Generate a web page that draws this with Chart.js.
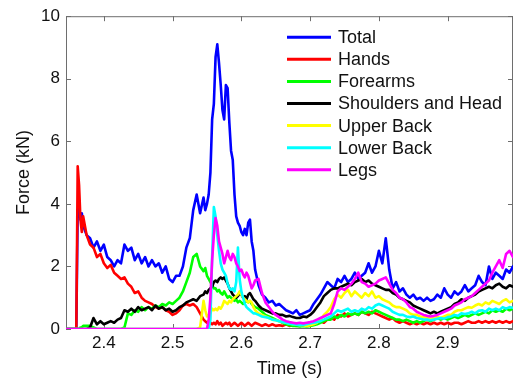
<!DOCTYPE html>
<html><head><meta charset="utf-8">
<script src="https://cdn.jsdelivr.net/npm/chart.js@4.4.1/dist/chart.umd.min.js"></script>
<style>html,body{margin:0;padding:0;background:#fff;}canvas{display:block}</style>
</head><body>
<canvas id="c" width="514" height="381"></canvas>
<script>
const seriesNames = ['Total','Hands','Forearms','Shoulders and Head','Upper Back','Lower Back','Legs'];
const seriesColors = ['#0000ff','#ff0000','#00ff00','#000000','#ffff00','#00ffff','#ff00ff'];

const times = [
2.345,2.350,2.355,2.360,
2.362,2.364,2.366,2.368,2.370,
2.375,2.380,2.385,2.390,2.395,
2.400,2.405,2.410,2.415,2.420,
2.425,2.430,2.435,2.440,2.445,
2.450,2.455,2.460,2.465,2.470,
2.475,2.480,2.485,2.490,2.495,
2.500,2.505,2.510,2.515,2.520,
2.525,2.530,2.535,2.540,2.545,
2.5475,2.5500,2.5525,2.5550,2.5575,
2.5600,2.5625,2.5650,2.5675,2.5700,
2.5725,2.5750,2.5775,2.5800,2.5825,
2.5850,2.5875,2.5900,2.5925,2.5950,
2.5975,2.6000,2.6025,2.6050,2.6075,
2.6100,2.6125,2.6150,2.6175,2.6200,
2.625,2.630,2.635,2.640,2.645,
2.650,2.655,2.660,2.665,2.670,
2.675,2.680,2.685,2.690,2.695,
2.700,2.705,2.710,2.715,2.720,
2.725,2.730,2.735,2.740,2.745,
2.750,2.755,2.760,2.765,2.770,
2.775,2.780,2.785,2.790,2.795,
2.800,2.805,2.810,2.815,2.820,
2.825,2.830,2.835,2.840,2.845,
2.850,2.855,2.860,2.865,2.870,
2.875,2.880,2.885,2.890,2.895,
2.900,2.905,2.910,2.915,2.920,
2.925,2.930,2.935,2.940,2.945,
2.950,2.955,2.960,2.965,2.970,
2.975,2.980,2.985,2.990,2.995
];

const total = [
0,0,0,0,
3.8,3.9,3.5,3.7,3.3,
3.0,2.9,2.6,2.8,2.5,
2.7,2.3,2.2,2.0,2.2,
2.1,2.7,2.5,2.6,2.2,
2.4,2.1,2.3,2.0,2.2,
2.0,2.1,1.8,2.0,1.6,
1.5,1.7,1.7,2.0,2.6,
2.9,3.8,4.3,3.7,4.2,
3.8,4.0,4.3,5.0,6.7,
7.2,8.7,9.1,8.5,7.8,
7.0,6.7,7.8,7.7,6.6,
5.7,5.4,4.3,3.6,3.4,
3.3,3.1,3.0,3.2,3.0,
3.4,3.5,2.8,2.5,1.9,
1.4,1.1,1.0,0.85,0.9,
0.75,0.8,0.7,0.6,0.55,
0.5,0.6,0.45,0.5,0.55,
0.6,0.8,0.95,1.1,1.3,
1.5,1.4,1.3,1.6,1.5,
1.7,1.5,1.6,1.8,1.6,
1.7,1.8,2.1,1.8,2.0,
2.5,2.1,2.9,1.9,1.3,
1.5,1.2,1.3,1.1,1.0,
1.1,0.95,1.0,0.9,1.0,
0.9,0.95,1.1,1.0,1.3,
1.1,1.0,1.2,1.1,1.2,
1.4,1.2,1.3,1.4,1.7,
1.5,1.4,2.0,1.6,1.8,
1.7,1.6,1.9,1.8,2.0
];

const hands = [
0,0,0,0,
5.2,4.6,3.5,3.1,3.6,
3.0,2.7,2.6,2.3,2.4,
2.1,1.95,2.05,1.8,1.7,
1.6,1.65,1.45,1.35,1.15,
1.2,1.0,0.9,0.85,0.8,
0.7,0.65,0.7,0.6,0.55,
0.45,0.5,0.6,0.75,0.8,
0.75,0.8,0.7,0.5,0.3,
0.25,0.2,0.25,0.2,0.15,
0.2,0.15,0.25,0.15,0.2,
0.1,0.15,0.2,0.15,0.2,
0.1,0.15,0.2,0.15,0.1,
0.15,0.2,0.15,0.1,0.15,
0.2,0.15,0.1,0.15,0.2,
0.15,0.1,0.15,0.1,0.15,
0.1,0.12,0.1,0.15,0.1,
0.12,0.1,0.15,0.12,0.15,
0.2,0.15,0.2,0.25,0.2,
0.3,0.35,0.3,0.45,0.4,
0.5,0.4,0.45,0.5,0.45,
0.55,0.5,0.45,0.55,0.5,
0.45,0.4,0.35,0.3,0.35,
0.25,0.2,0.25,0.2,0.15,
0.2,0.15,0.2,0.15,0.2,
0.15,0.2,0.15,0.2,0.15,
0.2,0.15,0.2,0.2,0.15,
0.2,0.25,0.2,0.2,0.25,
0.2,0.25,0.2,0.25,0.2,
0.25,0.2,0.25,0.2,0.25
];

const forearms = [
0,0,0,0,
0,0,0.05,0.05,0.1,
0.1,0.1,0.05,0,0,
0,0,0,0,0,
0,0.05,0.5,0.45,0.6,
0.55,0.7,0.6,0.7,0.65,
0.75,0.7,0.8,0.75,0.85,
0.8,0.9,1.0,1.2,1.5,
1.8,2.3,2.4,2.0,1.85,
1.95,1.7,1.6,1.5,1.4,
1.3,1.3,1.2,1.25,1.15,
1.1,1.2,1.1,1.0,1.05,
1.0,0.95,0.9,0.95,0.85,
0.9,0.85,0.8,0.85,0.9,
0.85,0.9,0.8,0.75,0.7,
0.65,0.55,0.45,0.4,0.35,
0.3,0.25,0.2,0.15,0.12,
0.1,0.1,0.08,0.1,0.08,
0.1,0.12,0.15,0.2,0.25,
0.3,0.3,0.4,0.35,0.45,
0.4,0.5,0.45,0.5,0.45,
0.55,0.5,0.55,0.5,0.6,
0.55,0.5,0.45,0.4,0.35,
0.3,0.3,0.25,0.3,0.25,
0.2,0.25,0.2,0.25,0.3,
0.25,0.3,0.35,0.3,0.35,
0.3,0.35,0.4,0.35,0.4,
0.45,0.4,0.45,0.5,0.45,
0.5,0.55,0.5,0.6,0.55,
0.6,0.55,0.65,0.6,0.65
];

const shoulders = [
0,0,0,0,
0,0,0,0,0,
0,0.05,0.35,0.15,0.25,
0.15,0.2,0.25,0.2,0.3,
0.35,0.6,0.55,0.65,0.55,
0.7,0.6,0.65,0.7,0.6,
0.75,0.65,0.7,0.6,0.65,
0.55,0.6,0.7,0.75,0.85,
0.9,0.95,0.9,1.05,1.1,
1.2,1.15,1.25,1.3,1.35,
1.5,1.55,1.5,1.6,1.65,
1.6,1.65,1.55,1.45,1.3,
1.2,1.1,1.05,1.0,1.05,
1.15,1.1,1.0,1.05,0.95,
1.1,1.15,1.05,0.95,0.9,
0.75,0.65,0.6,0.55,0.5,
0.5,0.45,0.45,0.4,0.42,
0.38,0.35,0.35,0.4,0.38,
0.45,0.55,0.7,0.85,1.05,
1.15,1.25,1.3,1.3,1.35,
1.4,1.45,1.4,1.5,1.55,
1.6,1.5,1.55,1.45,1.4,
1.35,1.3,1.25,1.25,1.15,
1.1,1.0,0.95,0.9,0.85,
0.75,0.7,0.65,0.6,0.55,
0.5,0.55,0.5,0.55,0.6,
0.65,0.7,0.8,0.85,0.95,
0.9,1.0,1.05,1.1,1.2,
1.25,1.3,1.35,1.3,1.4,
1.45,1.35,1.3,1.4,1.35
];

const upperBack = [
0,0,0,0,
0,0,0,0,0,
0,0,0,0,0,
0,0,0,0,0,
0,0,0,0,0,
0,0,0,0,0,
0,0,0,0,0,
0,0,0,0,0,
0,0,0,0.05,0.9,
0.6,0.4,0.45,0.5,0.65,
0.6,0.65,0.6,0.7,0.65,
0.75,0.9,0.85,0.8,0.9,
0.85,0.95,1.0,1.05,1.1,
1.2,1.1,1.0,0.95,0.9,
0.85,0.9,0.85,0.7,0.6,
0.5,0.45,0.4,0.35,0.3,
0.28,0.25,0.22,0.2,0.18,
0.15,0.15,0.12,0.12,0.1,
0.12,0.15,0.2,0.3,0.45,
0.55,0.7,0.95,1.1,1.0,
1.15,1.25,1.05,1.2,1.1,
1.0,1.15,1.05,1.2,1.0,
1.05,0.95,0.9,0.85,0.75,
0.7,0.7,0.65,0.6,0.5,
0.45,0.45,0.4,0.38,0.35,
0.33,0.35,0.38,0.35,0.4,
0.45,0.45,0.55,0.6,0.6,
0.65,0.7,0.68,0.75,0.8,
0.75,0.85,0.8,0.9,0.85,
0.8,0.9,0.95,0.85,0.9
];

const lowerBack = [
0,0,0,0,
0,0,0,0,0,
0,0,0,0,0,
0,0,0,0,0,
0,0,0,0,0,
0,0,0,0,0,
0,0,0,0,0,
0,0,0,0,0,
0,0,0,0,0,
0,0,0,0.3,2.3,
3.9,3.6,3.0,2.5,2.1,
1.9,1.8,1.7,1.45,1.3,
1.25,1.3,1.2,1.5,2.6,
1.6,1.2,1.0,0.8,0.7,
0.65,0.6,0.55,0.5,0.5,
0.45,0.4,0.38,0.35,0.3,
0.28,0.25,0.22,0.2,0.17,
0.15,0.14,0.12,0.13,0.15,
0.18,0.2,0.22,0.25,0.3,
0.35,0.4,0.5,0.6,0.55,
0.6,0.65,0.55,0.6,0.55,
0.65,0.6,0.7,0.65,0.75,
0.8,0.75,0.7,0.65,0.55,
0.5,0.45,0.45,0.4,0.38,
0.4,0.35,0.33,0.3,0.3,
0.28,0.3,0.33,0.35,0.33,
0.38,0.4,0.45,0.42,0.5,
0.48,0.5,0.55,0.5,0.58,
0.6,0.55,0.65,0.6,0.65,
0.6,0.7,0.65,0.7,0.68
];

const legs = [
0,0,0,0,
0,0,0,0,0,
0,0,0,0,0,
0,0,0,0,0,
0,0,0,0,0,
0,0,0,0,0,
0,0,0,0,0,
0,0,0,0,0,
0,0,0,0,0,
0,0,0.3,1.0,2.2,
3.0,3.55,3.3,2.8,2.6,
2.4,2.1,2.3,2.5,2.3,
2.2,2.4,2.3,2.1,2.0,
1.85,1.9,1.75,1.65,1.8,
1.7,1.5,1.3,1.4,1.55,
1.6,1.15,0.85,0.7,0.55,
0.45,0.38,0.3,0.25,0.22,
0.2,0.18,0.2,0.18,0.2,
0.22,0.25,0.3,0.35,0.4,
0.45,0.5,0.8,1.2,1.3,
1.25,1.35,1.45,1.6,1.8,
1.5,1.45,1.35,1.4,1.45,
1.55,1.6,1.65,1.45,1.25,
1.15,1.0,0.95,0.85,0.7,
0.65,0.55,0.5,0.45,0.42,
0.4,0.42,0.45,0.5,0.55,
0.6,0.65,0.75,0.8,0.85,
0.95,1.0,1.05,1.15,1.25,
1.35,1.45,1.55,1.8,2.0,
2.2,1.95,2.4,2.5,2.3
];

const xTicks = [2.4,2.5,2.6,2.7,2.8,2.9];
const xTickLabels = ['2.4','2.5','2.6','2.7','2.8','2.9'];
const yTicks = [0,2,4,6,8,10];
const yTickLabels = ['0','2','4','6','8','10'];
const xLabel = 'Time (s)';
const yLabel = 'Force (kN)';

const allSeries = [total, hands, forearms, shoulders, upperBack, lowerBack, legs];
const FONT = 'Liberation Sans, Arial, Helvetica, sans-serif';
const AXIS_COLOR = '#6e6e6e';

const datasets = allSeries.map((arr, k) => ({
  label: seriesNames[k],
  data: times.map((t, i) => ({x: t, y: arr[i]})),
  borderColor: seriesColors[k],
  backgroundColor: seriesColors[k],
  borderWidth: 2.6,
  pointRadius: 0,
  tension: 0,
  fill: false,
  borderJoinStyle: 'round',
  borderCapStyle: 'round',
  order: allSeries.length - k
}));

const framePlugin = {
  id: 'frame',
  beforeDatasetsDraw(chart) {
    const {ctx, chartArea: a, scales} = chart;
    ctx.save();
    ctx.strokeStyle = AXIS_COLOR;
    ctx.lineWidth = 1;
    ctx.strokeRect(a.left + 0.5, a.top + 0.5, a.right - a.left - 1, a.bottom - a.top - 1);
    const L = 5;
    ctx.beginPath();
    xTicks.forEach(v => {
      const px = Math.round(scales.x.getPixelForValue(v)) + 0.5;
      ctx.moveTo(px, a.bottom); ctx.lineTo(px, a.bottom - L);
      ctx.moveTo(px, a.top); ctx.lineTo(px, a.top + L);
    });
    yTicks.forEach(v => {
      const py = Math.round(scales.y.getPixelForValue(v)) + 0.5;
      ctx.moveTo(a.left, py); ctx.lineTo(a.left + L, py);
      ctx.moveTo(a.right, py); ctx.lineTo(a.right - L, py);
    });
    ctx.stroke();
    ctx.restore();
  }
};

const legendPlugin = {
  id: 'insideLegend',
  afterDatasetsDraw(chart) {
    const {ctx, chartArea: a} = chart;
    ctx.save();
    const x0 = a.left + 221, x1 = a.left + 265, tx = a.left + 272;
    const y0 = a.top + 21, dy = 22.1;
    ctx.font = '18px ' + FONT;
    ctx.textBaseline = 'middle';
    ctx.textAlign = 'left';
    chart.data.datasets.forEach((ds, i) => {
      const y = y0 + i * dy;
      ctx.strokeStyle = ds.borderColor;
      ctx.lineWidth = 3;
      ctx.beginPath(); ctx.moveTo(x0, y); ctx.lineTo(x1, y); ctx.stroke();
      ctx.fillStyle = '#111';
      ctx.fillText(ds.label, tx, y + 1);
    });
    ctx.restore();
  }
};

new Chart(document.getElementById('c'), {
  type: 'line',
  data: { datasets },
  options: {
    responsive: false,
    animation: false,
    devicePixelRatio: 1,
    layout: { padding: { top: 14, right: 1, left: 0, bottom: 0 } },
    plugins: { legend: { display: false }, tooltip: { enabled: false } },
    scales: {
      x: {
        type: 'linear', min: 2.345, max: 2.995,
        afterBuildTicks: s => { s.ticks = xTicks.map(v => ({value: v})); },
        afterFit: s => { s.height = 52; },
        ticks: {
          autoSkip: false, maxRotation: 0, padding: 4,
          color: '#111', font: { family: FONT, size: 17 },
          callback: (v) => { const i = xTicks.findIndex(t => Math.abs(t - v) < 1e-9); return i >= 0 ? xTickLabels[i] : ''; }
        },
        grid: { display: false, drawTicks: false },
        border: { display: false },
        title: { display: true, text: xLabel, color: '#111', font: { family: FONT, size: 18 }, padding: { top: 0, bottom: 1 } }
      },
      y: {
        type: 'linear', min: 0, max: 10,
        afterBuildTicks: s => { s.ticks = yTicks.map(v => ({value: v})); },
        afterFit: s => { s.width = 66; },
        ticks: {
          autoSkip: false, padding: 6,
          color: '#111', font: { family: FONT, size: 17 },
          callback: (v) => { const i = yTicks.indexOf(v); return i >= 0 ? yTickLabels[i] : ''; }
        },
        grid: { display: false, drawTicks: false },
        border: { display: false },
        title: { display: true, text: yLabel, color: '#111', font: { family: FONT, size: 18 }, padding: { top: 13, bottom: 0 } }
      }
    }
  },
  plugins: [framePlugin, legendPlugin]
});
</script>
</body></html>
